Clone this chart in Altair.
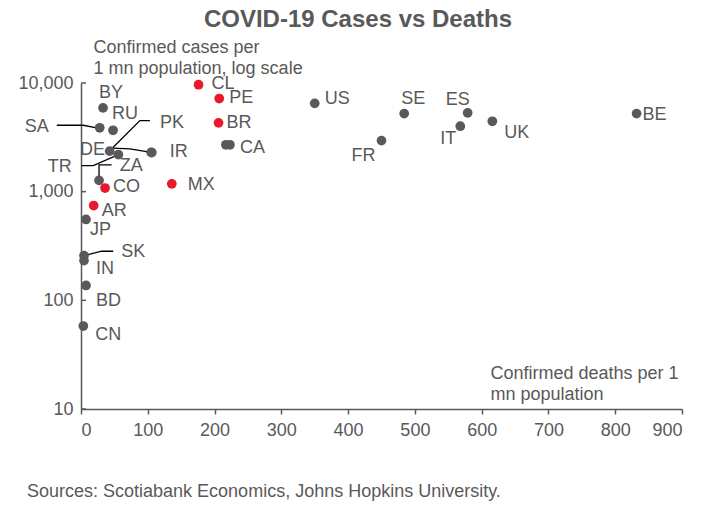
import altair as alt
import pandas as pd

FONT = "Liberation Sans"
GREY = "#595959"
RED = "#E8192C"

# ---- data ----
countries = ["CL", "PE", "BR", "MX", "CO", "AR", "US", "SE", "FR", "ES", "IT", "UK", "BE",
             "IR", "DE", "CA", "", "BY", "SA", "RU", "PK", "TR", "ZA", "JP", "SK", "IN", "BD", "CN"]
deaths_per_mn = [176, 207, 206, 136, 36, 19, 350, 484, 450, 579, 568, 616, 832,
                 106, 105, 217, 223, 33, 28, 48, 43, 56, 27, 7.5, 4.5, 4.5, 7.5, 3.5]
cases_per_mn = [9650, 7200, 4300, 1180, 1080, 745, 6500, 5230, 2950, 5310, 4000, 4440, 5230,
                2290, 2300, 2700, 2700, 5900, 3870, 3670, 2360, 2190, 1270, 555, 258, 232, 137, 58]
latam = ["CL", "PE", "BR", "MX", "CO", "AR"]

# leader lines (country, step, deaths, cases)
leader_country = ["SA"] * 3 + ["PK"] * 3 + ["DE"] * 3 + ["TR"] * 3 + ["ZA"] * 3 + ["SK"] * 3
leader_step = [0, 1, 2] * 6
leader_deaths = [-36.3, 3.4, 23.5,
                 103.2, 88.2, 42.6,
                 38.9, 73.3, 105,
                 1.0, 18.4, 56,
                 45.9, 27, 27,
                 48.3, 31, 4.5]
leader_cases = [4083, 4083, 3865,
                4510, 4510, 2363,
                2529, 2476, 2300,
                1738, 1738, 2190,
                1765, 1765, 1290,
                283, 283, 258]

y_ticks = [10, 100, 1000, 10000]
x_ticks = [0, 100, 200, 300, 400, 500, 600, 700, 800, 900]

# label placement (pixel offsets dx, dy, align) -- styling, not data
label_place = {
    "CL": (13, -1, "left"), "PE": (10, -1, "left"), "BR": (8, 0, "left"),
    "CA": (14, 3, "left"), "US": (10, -4, "left"), "SE": (9, -15, "center"),
    "ES": (-10, -13, "center"), "IT": (-12, 13, "center"), "UK": (12, 12, "left"),
    "FR": (-18, 15, "center"), "BE": (6, 1, "left"), "IR": (18, -1, "left"),
    "MX": (16, 1, "left"), "BY": (8, -15, "center"), "RU": (12, -16, "center"),
    "CO": (8, -1, "left"), "AR": (8, 5, "left"), "JP": (4, 11, "left"),
    "IN": (12, 8, "left"), "BD": (10, 16, "left"), "CN": (12, 9, "left"),
}
leader_label_place = {
    "SA": (-8, 2, "right"), "PK": (10, 2, "left"), "DE": (-2, 2, "right"),
    "TR": (-10, 1, "right"), "ZA": (8, 1, "left"), "SK": (8, 1, "left"),
}

df = pd.DataFrame({
    "country": countries,
    "deaths": deaths_per_mn,
    "cases": cases_per_mn,
})
df["group"] = ["Latin America" if c in latam else "Other" for c in countries]

lead = pd.DataFrame({
    "country": leader_country,
    "step": leader_step,
    "deaths": leader_deaths,
    "cases": leader_cases,
})

x_enc = alt.X(
    "deaths:Q",
    scale=alt.Scale(domain=[0, 900], nice=False, zero=False),
    axis=alt.Axis(
        values=x_ticks, grid=False, tickSize=5, tickWidth=1.5, tickColor=GREY,
        domainColor=GREY, domainWidth=1.5, labelFont=FONT, labelFontSize=18,
        labelColor=GREY, labelPadding=7,
        title=["Confirmed deaths per 1", "mn population"],
        titleFont=FONT, titleFontSize=18, titleFontWeight="normal", titleColor=GREY,
        titleAlign="left", titleAnchor="start", titleBaseline="alphabetic",
        titleX=409, titleY=-31, titleLineHeight=21,
    ),
)
y_enc = alt.Y(
    "cases:Q",
    scale=alt.Scale(type="log", domain=[10, 10000], nice=False),
    axis=alt.Axis(
        values=y_ticks, format=",", grid=False, tickSize=0,
        domainColor=GREY, domainWidth=1.5, labelFont=FONT, labelFontSize=18,
        labelColor=GREY, labelPadding=8,
        title=["Confirmed cases per", "1 mn population, log scale"],
        titleFont=FONT, titleFontSize=18, titleFontWeight="normal", titleColor=GREY,
        titleAngle=0, titleAlign="left", titleBaseline="alphabetic",
        titleX=12, titleY=-31, titleLineHeight=21,
    ),
)

# inward y ticks
tick_df = pd.DataFrame({"cases": y_ticks, "deaths": [0] * 4, "deaths_end": [7.5] * 4})
ticks = alt.Chart(tick_df).mark_rule(color=GREY, strokeWidth=1.5).encode(
    x=x_enc, x2="deaths_end:Q", y=y_enc
)

leaders = alt.Chart(lead).mark_line(color="black", strokeWidth=1.3).encode(
    x=x_enc, y=y_enc, detail="country:N", order="step:Q"
)

points = alt.Chart(df).mark_circle(size=95, opacity=1).encode(
    x=x_enc, y=y_enc,
    color=alt.Color("group:N", scale=alt.Scale(domain=["Latin America", "Other"],
                                                range=[RED, GREY]), legend=None),
)

layers = [ticks, leaders, points]

for c, (dx, dy, al) in label_place.items():
    sub = df[df["country"] == c]
    layers.append(
        alt.Chart(sub).mark_text(dx=dx, dy=dy, align=al, baseline="middle",
                                 font=FONT, fontSize=18, color=GREY)
        .encode(x=x_enc, y=y_enc, text="country:N")
    )

for c, (dx, dy, al) in leader_label_place.items():
    sub = lead[(lead["country"] == c) & (lead["step"] == 0)]
    layers.append(
        alt.Chart(sub).mark_text(dx=dx, dy=dy, align=al, baseline="middle",
                                 font=FONT, fontSize=18, color=GREY)
        .encode(x=x_enc, y=y_enc, text="country:N")
    )

title_df = pd.DataFrame({"t": ["COVID-19 Cases vs Deaths"]})
title = alt.Chart(title_df).mark_text(
    font=FONT, fontSize=24, fontWeight="bold", color=GREY, align="center", baseline="middle"
).encode(x=alt.value(277), y=alt.value(-63), text="t:N")

src_df = pd.DataFrame({"t": ["Sources: Scotiabank Economics, Johns Hopkins University."]})
source = alt.Chart(src_df).mark_text(
    font=FONT, fontSize=18, color=GREY, align="left", baseline="middle"
).encode(x=alt.value(-54), y=alt.value(409), text="t:N")

layers += [title, source]

chart = alt.layer(*layers).properties(
    width=601, height=326,
    autosize=alt.AutoSizeParams(type="none"),
    padding={"left": 73, "top": 75, "right": 23, "bottom": 92},
    background="white",
).configure_view(stroke=None)

chart.save("out.html", embed_options={"renderer": "svg", "actions": False})
